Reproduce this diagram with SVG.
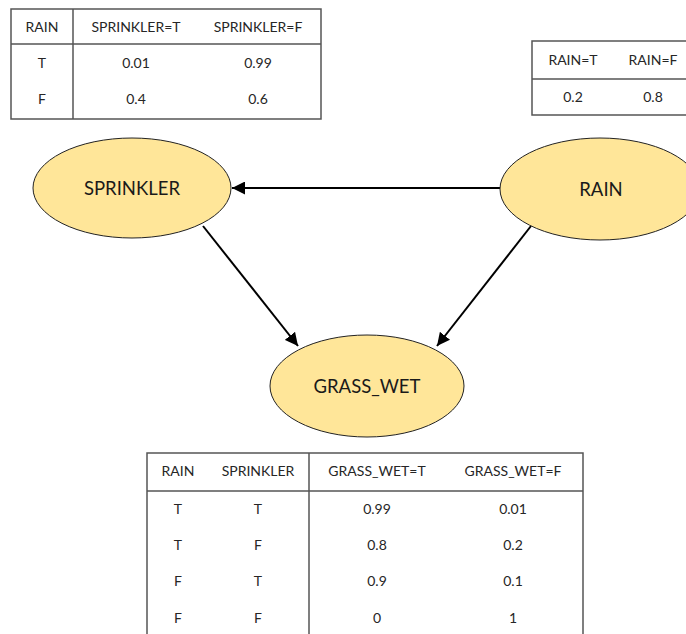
<svg xmlns="http://www.w3.org/2000/svg" width="686" height="634" viewBox="0 0 686 634">
<defs>
<marker id="ah" viewBox="0 0 10 10" refX="10" refY="5" markerWidth="6.5" markerHeight="6.5" markerUnits="strokeWidth" orient="auto">
<path d="M0,0 L10,5 L0,10 z" fill="#000"/>
</marker>
</defs>
<style>
.tb{fill:none;stroke:#555;stroke-width:1.5}
.tt{font-family:Lato,"Open Sans","Liberation Sans",sans-serif;font-size:14px;fill:#262626;text-anchor:middle;dominant-baseline:central}
.node{fill:#FFE699;stroke:#222;stroke-width:1}
.nt{font-family:Lato,"Open Sans","Liberation Sans",sans-serif;font-size:18.5px;fill:#1a1a1a;text-anchor:middle;dominant-baseline:central}
.edge{stroke:#000;stroke-width:2;fill:none;marker-end:url(#ah)}
</style>
<rect width="686" height="634" fill="#fff"/>
<g id="table-sprinkler">
<rect class="tb" x="11" y="9" width="310" height="110"/>
<line class="tb" x1="73" y1="9" x2="73" y2="119"/>
<line class="tb" x1="11" y1="44" x2="321" y2="44"/>
<text class="tt" x="42" y="26">RAIN</text>
<text class="tt" x="136" y="26">SPRINKLER=T</text>
<text class="tt" x="258" y="26">SPRINKLER=F</text>
<text class="tt" x="42" y="62">T</text>
<text class="tt" x="136" y="62">0.01</text>
<text class="tt" x="258" y="62">0.99</text>
<text class="tt" x="42" y="98">F</text>
<text class="tt" x="136" y="98">0.4</text>
<text class="tt" x="258" y="98">0.6</text>
</g>
<g id="table-rain">
<rect class="tb" x="532" y="41" width="200" height="74"/>
<line class="tb" x1="532" y1="79" x2="690" y2="79"/>
<text class="tt" x="573" y="59">RAIN=T</text>
<text class="tt" x="653" y="59">RAIN=F</text>
<text class="tt" x="573" y="96">0.2</text>
<text class="tt" x="653" y="96">0.8</text>
</g>
<g id="table-grass">
<path class="tb" d="M147,640 V453 H583 V640"/>
<line class="tb" x1="309" y1="453" x2="309" y2="640"/>
<line class="tb" x1="147" y1="491" x2="583" y2="491"/>
<text class="tt" x="178" y="470">RAIN</text>
<text class="tt" x="258" y="470">SPRINKLER</text>
<text class="tt" x="377" y="470">GRASS_WET=T</text>
<text class="tt" x="513" y="470">GRASS_WET=F</text>
<text class="tt" x="178" y="508">T</text><text class="tt" x="258" y="508">T</text><text class="tt" x="377" y="508">0.99</text><text class="tt" x="513" y="508">0.01</text>
<text class="tt" x="178" y="544">T</text><text class="tt" x="258" y="544">F</text><text class="tt" x="377" y="544">0.8</text><text class="tt" x="513" y="544">0.2</text>
<text class="tt" x="178" y="580">F</text><text class="tt" x="258" y="580">T</text><text class="tt" x="377" y="580">0.9</text><text class="tt" x="513" y="580">0.1</text>
<text class="tt" x="178" y="617">F</text><text class="tt" x="258" y="617">F</text><text class="tt" x="377" y="617">0</text><text class="tt" x="513" y="617">1</text>
</g>
<g id="connectors">
<line class="edge" x1="500" y1="188" x2="232" y2="188"/>
<line class="edge" x1="203" y1="226" x2="298" y2="346"/>
<line class="edge" x1="531" y1="226" x2="437" y2="346"/>
</g>
<g id="node-sprinkler">
<ellipse class="node" cx="132" cy="188" rx="99" ry="50"/>
<text class="nt" x="132" y="188">SPRINKLER</text>
</g>
<g id="node-rain">
<ellipse class="node" cx="600" cy="189" rx="100" ry="51"/>
<text class="nt" x="601" y="189">RAIN</text>
</g>
<g id="node-grass">
<ellipse class="node" cx="367" cy="386" rx="97" ry="51"/>
<text class="nt" x="367" y="386">GRASS_WET</text>
</g>
</svg>
